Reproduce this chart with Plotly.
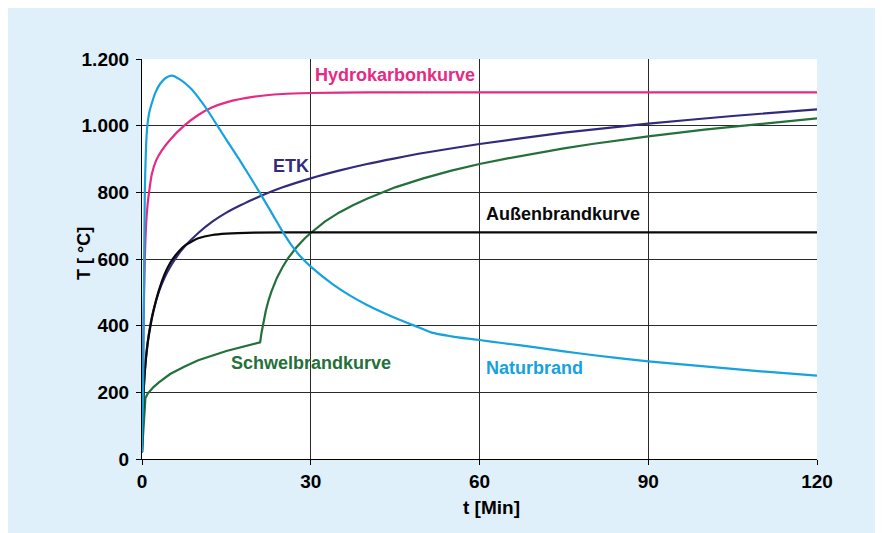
import plotly.graph_objects as go

# ---- data ----
etk_t = [0, 0.25, 0.5, 0.75, 1, 1.5, 2, 3, 4, 5, 6, 7.5, 10, 12.5, 15, 17.5, 20, 25, 30, 35, 40, 45, 50, 60, 75, 90, 105, 120]
etk_T = [20, 185, 261, 312, 349, 404, 444, 502, 544, 576, 603, 636, 678, 712, 739, 761, 781, 815, 842, 865, 885, 902, 918, 945, 979, 1006, 1029, 1049]

hc_t = [0, 0.25, 0.5, 0.75, 1.0, 1.25, 1.75, 2.5, 3.5, 5, 7.5, 10, 12.5, 15, 20, 25, 30, 40, 60, 90, 120]
hc_T = [20, 380, 600, 710, 765, 800, 855, 895, 925, 958, 1000, 1032, 1055, 1070, 1087, 1095, 1098, 1100, 1100, 1100, 1100]

aus_t = [0, 0.25, 0.5, 1, 1.5, 2, 3, 4, 5, 6, 7.5, 9, 10, 12.5, 15, 20, 30, 60, 90, 120]
aus_T = [20, 182, 263, 346, 399, 441, 506, 554, 588, 612, 639, 654, 662, 672, 676, 679, 680, 680, 680, 680]

sch_t = [0, 0.3, 0.6, 1, 2, 3, 5, 7.5, 10, 15, 20, 21, 21.25, 21.5, 22, 22.5, 23, 24, 25, 26, 27.5, 29, 30, 32.5, 35, 37.5, 40,
         45, 50, 55, 60, 65, 70, 75, 80, 90, 100, 110, 120]
sch_T = [20, 120, 182, 196, 215, 230, 255, 277, 296, 324, 346, 350, 379, 404, 444, 476, 502, 544, 576, 603, 636, 663, 678, 712, 739, 761, 781,
         815, 842, 865, 885, 902, 918, 932, 945, 968, 988, 1006, 1022]

nat_t = [0, 0.2, 0.35, 0.5, 0.7, 0.95, 1.3, 1.7, 2.4, 3.2, 4.2, 5.3, 6.8, 8.6, 10, 11.5, 13.4, 15.1, 17.5, 20.9,
         23, 24.9, 26.5, 28.3, 30, 34, 37, 40, 43, 46, 49, 51.5, 55, 58, 60, 64, 70, 75, 80, 90, 100, 110, 120]
nat_T = [20, 200, 540, 800, 930, 1000, 1040, 1065, 1100, 1125, 1143, 1150, 1138, 1113, 1085, 1050, 1000, 955, 893, 800,
         740, 685, 643, 605, 577, 523, 490, 462, 438, 416, 396, 379, 368, 361, 357, 348, 335, 323, 312, 293, 278, 263, 250]

y_ticks = [0, 200, 400, 600, 800, 1000, 1200]
y_labels = ["0", "200", "400", "600", "800", "1.000", "1.200"]
x_ticks = [0, 30, 60, 90, 120]
x_labels = ["0", "30", "60", "90", "120"]

labels = ["Hydrokarbonkurve", "ETK", "Außenbrandkurve", "Schwelbrandkurve", "Naturbrand"]
label_t = [44.9, 26.4, 74.9, 30.1, 69.7]
label_T = [1153, 880, 736, 287, 273]

# ---- styling ----
PINK = "#e62a84"
BLUE = "#16a2de"
PURPLE = "#322a7c"
BLACK = "#0a0a0a"
GREEN = "#24703a"
label_colors = [PINK, PURPLE, BLACK, GREEN, BLUE]
BG = "#dff0fb"
FONT = "Liberation Sans, Arial, sans-serif"

W, H = 875, 525
L, R, T, B = 134, 66, 51, 74
PW, PH = W - L - R, H - T - B

fig = go.Figure()
series = [
    (hc_t, hc_T, PINK, "spline"),
    (etk_t, etk_T, PURPLE, "spline"),
    (sch_t, sch_T, GREEN, "linear"),
    (aus_t, aus_T, BLACK, "spline"),
    (nat_t, nat_T, BLUE, "spline"),
]
for t, Tv, c, shp in series:
    fig.add_trace(go.Scatter(x=t, y=Tv, mode="lines",
                             line=dict(color=c, width=2.2, shape=shp, smoothing=0.6),
                             showlegend=False, hoverinfo="skip"))

for txt, tx, ty, c in zip(labels, label_t, label_T, label_colors):
    fig.add_annotation(x=tx, y=ty, text=txt, showarrow=False,
                       font=dict(family=FONT, size=18, color=c, weight="bold"),
                       xanchor="center", yanchor="middle")

# axis titles (page pixel positions, page offset 8px)
fig.add_annotation(xref="paper", yref="paper", x=(491 - 8 - L) / PW, y=(H - B - (507.5 - 8)) / PH,
                   text="t [Min]", showarrow=False, xanchor="center", yanchor="middle",
                   font=dict(family=FONT, size=19, color="black", weight="bold"))
fig.add_annotation(xref="paper", yref="paper", x=(84 - 8 - L) / PW, y=(H - B - (254 - 8)) / PH,
                   text="T [ °C]", showarrow=False, xanchor="center", yanchor="middle", textangle=-90,
                   font=dict(family=FONT, size=18, color="black", weight="bold"))

fig.update_xaxes(range=[0, 120], tickvals=x_ticks, ticktext=x_labels,
                 showgrid=True, gridcolor="#2a2a2a", gridwidth=1, zeroline=False,
                 showline=True, linecolor="black", linewidth=1.2,
                 ticks="outside", ticklen=5, tickcolor="black",
                 tickfont=dict(family=FONT, size=19, color="black", weight="bold"))
fig.update_yaxes(range=[0, 1200], tickvals=y_ticks, ticktext=y_labels,
                 showgrid=True, gridcolor="#2a2a2a", gridwidth=1, zeroline=False,
                 showline=True, linecolor="black", linewidth=1.2,
                 ticks="outside", ticklen=5, tickcolor="black", ticklabelstandoff=3,
                 tickfont=dict(family=FONT, size=19, color="black", weight="bold"))

fig.update_layout(width=W, height=H, margin=dict(l=L, r=R, t=T, b=B),
                  paper_bgcolor=BG, plot_bgcolor="white")

fig.write_html("out.html")
